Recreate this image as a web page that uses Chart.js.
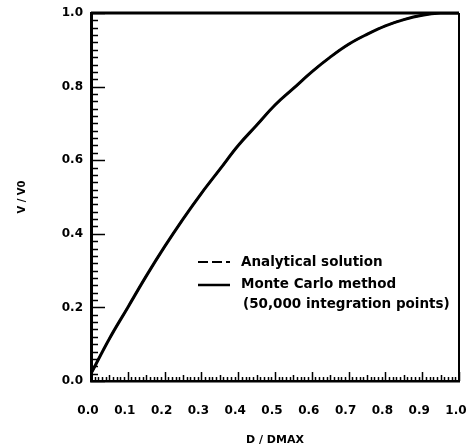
<!DOCTYPE html>
<html>
<head>
<meta charset="utf-8">
<script src="https://cdn.jsdelivr.net/npm/chart.js@4/dist/chart.umd.min.js"></script>
<style>
  html, body { margin: 0; padding: 0; background: #fff; overflow: hidden; }
  canvas { display: block; }
</style>
</head>
<body>
<canvas id="chart" width="468" height="447"></canvas>
<script>
// D / DMAX
const dRatio = [0, 0.05, 0.1, 0.15, 0.2, 0.25, 0.3, 0.35, 0.4, 0.45, 0.5,
                0.55, 0.6, 0.65, 0.7, 0.75, 0.8, 0.85, 0.9, 0.95, 1.0];
// V / V0, analytical
const analytical = [0.02, 0.115, 0.20, 0.285, 0.365, 0.44, 0.51, 0.575, 0.64, 0.695, 0.75,
                    0.795, 0.84, 0.88, 0.915, 0.942, 0.965, 0.982, 0.994, 1.0, 1.0];
// V / V0, Monte Carlo (50,000 points)
const monteCarlo = [0.02, 0.115, 0.20, 0.285, 0.365, 0.44, 0.51, 0.575, 0.64, 0.695, 0.75,
                    0.795, 0.84, 0.88, 0.915, 0.942, 0.965, 0.982, 0.994, 1.0, 1.0];

const seriesLabels = ["Analytical solution", "Monte Carlo method"];
const legendNote = "(50,000 integration points)";
const xTitle = "D / DMAX";
const yTitle = "V / V0";

const font = "'DejaVu Sans', sans-serif";

const toPoints = (ys) => ys.map((v, i) => ({ x: dRatio[i], y: v }));

// ticks pointing into the plot, plus the top and right frame lines
const insideTicks = {
    id: "insideTicks",
    afterDatasetsDraw(chart) {
        const { ctx, chartArea: a, scales: { x, y } } = chart;
        ctx.save();
        ctx.strokeStyle = "#000";
        ctx.lineWidth = 1.5;
        ctx.beginPath();
        for (let i = 0; i <= 100; i++) {
            const px = Math.round(x.getPixelForValue(i / 100)) + 0.5;
            const len = i % 10 === 0 ? 9 : (i % 5 === 0 ? 6 : 4);
            ctx.moveTo(px, a.bottom);
            ctx.lineTo(px, a.bottom - len);
        }
        for (let i = 0; i <= 50; i++) {
            const py = Math.round(y.getPixelForValue(i / 50)) + 0.5;
            const len = i % 10 === 0 ? 14 : 7;
            ctx.moveTo(a.left, py);
            ctx.lineTo(a.left + len, py);
        }
        ctx.stroke();

        ctx.lineWidth = 3;
        ctx.beginPath();
        ctx.moveTo(a.left, a.top);
        ctx.lineTo(a.right, a.top);
        ctx.stroke();
        ctx.lineWidth = 2;
        ctx.beginPath();
        ctx.moveTo(a.right, a.top);
        ctx.lineTo(a.right, a.bottom);
        ctx.stroke();
        ctx.restore();
    },
};

// legend box inside the plot
const innerLegend = {
    id: "innerLegend",
    afterDraw(chart) {
        const { ctx, chartArea: a } = chart;
        const x0 = a.left + 107;
        const y0 = a.top + 249;
        ctx.save();
        ctx.fillStyle = "#000";
        ctx.strokeStyle = "#000";
        ctx.font = "bold 13.5px " + font;
        ctx.textBaseline = "middle";

        ctx.lineWidth = 2;
        ctx.setLineDash([10, 4]);
        ctx.beginPath();
        ctx.moveTo(x0, y0);
        ctx.lineTo(x0 + 32, y0);
        ctx.stroke();
        ctx.fillText(seriesLabels[0], x0 + 43, y0);

        ctx.setLineDash([]);
        ctx.lineWidth = 2.5;
        ctx.beginPath();
        ctx.moveTo(x0, y0 + 23);
        ctx.lineTo(x0 + 32, y0 + 23);
        ctx.stroke();
        ctx.fillText(seriesLabels[1], x0 + 43, y0 + 22);
        ctx.fillText(legendNote, x0 + 45, y0 + 42);
        ctx.restore();
    },
};

new Chart(document.getElementById("chart"), {
    type: "line",
    data: {
        datasets: [
            {
                label: seriesLabels[1],
                data: toPoints(monteCarlo),
                borderColor: "#000",
                borderWidth: 3,
                pointRadius: 0,
                tension: 0.4,
                fill: false,
            },
            {
                label: seriesLabels[0],
                data: toPoints(analytical),
                borderColor: "#000",
                borderWidth: 2,
                borderDash: [9, 4],
                pointRadius: 0,
                tension: 0.4,
                fill: false,
            },
        ],
    },
    options: {
        responsive: false,
        animation: false,
        layout: { padding: { top: 13, right: 9, left: 0, bottom: 0 } },
        plugins: {
            legend: { display: false },
            tooltip: { enabled: false },
        },
        scales: {
            x: {
                type: "linear",
                min: 0,
                max: 1,
                grid: { display: false, drawTicks: false },
                border: { display: true, color: "#000", width: 2.5 },
                ticks: {
                    stepSize: 0.1,
                    padding: 23,
                    labelOffset: -3,
                    color: "#000",
                    font: { family: font, size: 12, weight: "bold" },
                    callback: (v) => v.toFixed(1),
                },
                title: {
                    display: true,
                    text: xTitle,
                    color: "#000",
                    font: { family: font, size: 11, weight: "bold" },
                    padding: { top: 12, bottom: 0 },
                },
                afterFit: (scale) => {
                    scale.height = 66;
                    scale.paddingLeft = 0;
                    scale.paddingRight = 0;
                },
            },
            y: {
                min: 0,
                max: 1,
                grid: { display: false, drawTicks: false },
                border: { display: true, color: "#000", width: 3 },
                ticks: {
                    stepSize: 0.2,
                    padding: 8,
                    color: "#000",
                    font: { family: font, size: 12, weight: "bold" },
                    callback: (v) => v.toFixed(1),
                },
                title: {
                    display: true,
                    text: yTitle,
                    color: "#000",
                    font: { family: font, size: 10, weight: "bold" },
                    padding: { top: 16, bottom: 20 },
                },
                afterFit: (scale) => {
                    scale.width = 91;
                    scale.paddingTop = 0;
                    scale.paddingBottom = 0;
                },
            },
        },
    },
    plugins: [insideTicks, innerLegend],
});
</script>
</body>
</html>
